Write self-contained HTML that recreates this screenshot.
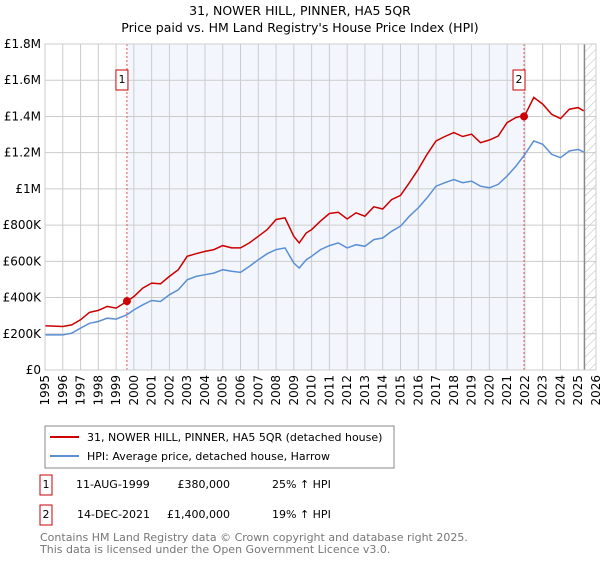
<!DOCTYPE html>
<html><head><meta charset="utf-8"><style>
body{margin:0;background:#fff;font-family:"Liberation Sans","DejaVu Sans",sans-serif}
svg text{font-family:"DejaVu Sans","Liberation Sans",sans-serif}
</style></head><body>
<svg width="600" height="560" xmlns="http://www.w3.org/2000/svg">
<defs><pattern id="hatch" width="6" height="6" patternUnits="userSpaceOnUse" patternTransform="rotate(45)"><line x1="0" y1="0" x2="0" y2="6" stroke="#bbb" stroke-width="1"/></pattern></defs>
<text x="300" y="15" text-anchor="middle" font-size="12.5">31, NOWER HILL, PINNER, HA5 5QR</text>
<text x="300" y="32" text-anchor="middle" font-size="12.5">Price paid vs. HM Land Registry's House Price Index (HPI)</text>
<g id="plot"></g>
<rect x="45" y="426" width="349" height="42" fill="#fff" stroke="#888"/>
<line x1="50" y1="437" x2="79" y2="437" stroke="#cc0000" stroke-width="2"/>
<text x="87" y="441" font-size="11">31, NOWER HILL, PINNER, HA5 5QR (detached house)</text>
<line x1="50" y1="456" x2="79" y2="456" stroke="#5b8fd4" stroke-width="2"/>
<text x="87" y="460" font-size="11">HPI: Average price, detached house, Harrow</text>
<g font-size="11">
<rect x="40" y="475" width="12" height="20" fill="#fff" stroke="#cc0000"/>
<text x="46" y="488" text-anchor="middle">1</text>
<text x="76" y="488">11-AUG-1999</text><text x="230" y="488" text-anchor="end">£380,000</text><text x="272" y="488">25% ↑ HPI</text>
<rect x="40" y="505" width="12" height="20" fill="#fff" stroke="#cc0000"/>
<text x="46" y="518" text-anchor="middle">2</text>
<text x="77" y="518">14-DEC-2021</text><text x="230" y="518" text-anchor="end">£1,400,000</text><text x="272" y="518">19% ↑ HPI</text>
</g>
<text x="40" y="541" font-size="11" fill="#777">Contains HM Land Registry data © Crown copyright and database right 2025.</text>
<text x="40" y="553" font-size="11" fill="#777">This data is licensed under the Open Government Licence v3.0.</text>
</svg>
<script>
const years=[1995,1996,1996.5,1997,1997.5,1998,1998.5,1999,1999.6,2000,2000.5,2001,2001.5,2002,2002.5,2003,2003.5,2004,2004.5,2005,2005.5,2006,2006.5,2007,2007.5,2008,2008.5,2009,2009.3,2009.7,2010,2010.5,2011,2011.5,2012,2012.5,2013,2013.5,2014,2014.5,2015,2015.5,2016,2016.5,2017,2017.5,2018,2018.5,2019,2019.5,2020,2020.5,2021,2021.5,2022,2022.5,2023,2023.5,2024,2024.5,2025,2025.3];
const hpiValues=[194,194,203,231,258,268,286,281,305,332,360,384,378,415,443,498,517,526,535,554,545,539,572,609,642,665,674,591,563,609,628,665,687,702,674,692,683,720,729,766,794,849,895,951,1015,1034,1052,1034,1043,1015,1006,1025,1071,1126,1191,1265,1246,1191,1172,1209,1218,1204];
const priceValues=[244,240,249,277,318,329,351,342,378,406,452,480,476,517,554,628,642,655,665,687,674,674,702,738,775,831,840,738,702,757,775,822,864,871,834,868,849,901,889,941,964,1034,1108,1191,1265,1289,1311,1289,1302,1255,1270,1292,1366,1394,1407,1505,1468,1412,1388,1440,1449,1431];
const yTicks=[0,200,400,600,800,1000,1200,1400,1600,1800];
const yTickLabels=["£0","£200K","£400K","£600K","£800K","£1M","£1.2M","£1.4M","£1.6M","£1.8M"];
const xTicks=[1995,1996,1997,1998,1999,2000,2001,2002,2003,2004,2005,2006,2007,2008,2009,2010,2011,2012,2013,2014,2015,2016,2017,2018,2019,2020,2021,2022,2023,2024,2025,2026];
const saleYears=[1999.61,2021.95];
const saleValues=[380,1400];
const saleLabels=["1","2"];
const NS="http://www.w3.org/2000/svg";
const L=45,R=596,T=44,B=370;
const xs=y=>L+(y-1995)/(2026-1995)*(R-L);
const ys=v=>B-v/1800*(B-T);
const g=document.getElementById('plot');
function mk(t,a){const e=document.createElementNS(NS,t);for(const k in a)e.setAttribute(k,a[k]);g.appendChild(e);return e;}
let e=mk('rect',{x:L,y:T,width:R-L,height:B-T,fill:'#fff'});


e=mk('rect',{x:xs(saleYears[0]),y:T,width:xs(saleYears[1])-xs(saleYears[0]),height:B-T,fill:'#eef3fc',opacity:0.7});


const hs=xs(2025.35);
e=mk('rect',{x:hs,y:T,width:R-hs,height:B-T,fill:'url(#hatch)'});


yTicks.forEach((v,i)=>{
 let l=mk('line',{x1:L,x2:R,y1:ys(v),y2:ys(v),stroke:'#ccc'});
 
 
 let t=mk('text',{x:L-4,y:ys(v)+4,'text-anchor':'end','font-size':'12'});t.textContent=yTickLabels[i];
 
 
});
xTicks.forEach(v=>{
 let l=mk('line',{x1:xs(v),x2:xs(v),y1:T,y2:B,stroke:'#ccc'});
 
 
 const tx=xs(v)+4, ty=B+5;
 let t=mk('text',{x:tx,y:ty,'text-anchor':'end','font-size':'12',transform:'rotate(-90 '+tx+' '+ty+')'});t.textContent=v;
 
 
});
e=mk('line',{x1:hs,x2:hs,y1:T,y2:B,stroke:'#888','stroke-width':1.5});


saleYears.forEach((y,i)=>{
 let l=mk('line',{x1:xs(y),x2:xs(y),y1:T,y2:B,stroke:'#e05555','stroke-dasharray':'2,2'});
 
 
});
function path(vals,col,name){
 let d=vals.map((v,i)=>(i?'L':'M')+xs(years[i]).toFixed(1)+','+ys(v).toFixed(1)).join('');
 let p=mk('path',{d:d,fill:'none',stroke:col,'stroke-width':1.5});
 
 
}
path(hpiValues,'#5b8fd4','hpi-line');
path(priceValues,'#cc0000','property-price-line');
saleYears.forEach((y,i)=>{
 let c=mk('circle',{cx:xs(y),cy:ys(saleValues[i]),r:4,fill:'#cc0000'});
 
 
 let r=mk('rect',{x:xs(y)-11,y:70,width:12,height:20,fill:'#fff',stroke:'#cc0000'});
 
 
 let t=mk('text',{x:xs(y)-5,y:83,'text-anchor':'middle','font-size':'11'});t.textContent=saleLabels[i];
 
 
});
e=mk('rect',{x:L,y:T,width:R-L,height:B-T,fill:'none',stroke:'#ccc'});


</script>
</body></html>
